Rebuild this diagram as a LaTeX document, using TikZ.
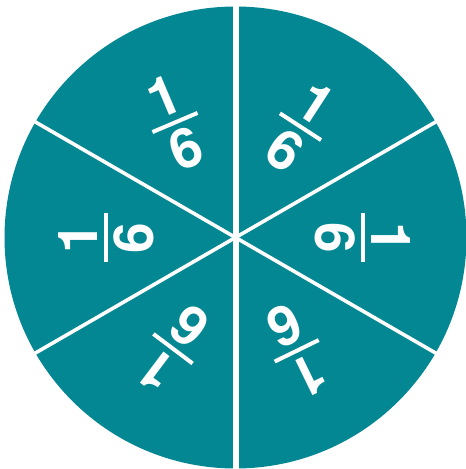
\documentclass[tikz,border=0pt]{standalone}
\usepackage{fontspec}
\setmainfont{TeX Gyre Heros}
\definecolor{pietal}{HTML}{038792}
\tikzset{
  digit/.style={text=white, inner sep=0pt, font=\bfseries\fontsize{55}{55}\selectfont},
  fracbar/.style={fill=white, inner sep=0pt, minimum width=49pt, minimum height=4pt},
  divider/.style={draw=white, line width=3.6pt},
}
\begin{document}
\begin{tikzpicture}[x=1pt,y=1pt]
\useasboundingbox (0,0) rectangle (466,469);
\coordinate (c) at (235.5,231.5);
\fill[pietal] (c) circle (231);
% dividers
\coordinate (t) at (236,469);
\coordinate (b) at (236,-2);
\coordinate (a30) at ([shift={(30:232)}]c);
\coordinate (a210) at ([shift={(210:232)}]c);
\coordinate (a150) at ([shift={(150:232)}]c);
\coordinate (a330) at ([shift={(330:232)}]c);
\draw[divider] (a30) -- (a210);
\draw[divider] (a150) -- (a330);
\draw[divider, line width=5.3pt] (t) -- (b);
% fractions: name / x / y(img) / rotation
\foreach \nm/\px/\py/\rot in {tl/175/122.5/23, tr/300.5/126.7/-33, l/106/238/90, r/363.3/238/-90, bl/173/348.7/143, br/296.7/350.8/206}{
  \begin{scope}[shift={(\px,469-\py)}, rotate=\rot, transform shape]
    \node[fracbar] (bar\nm) at (0,0) {};
    \node[digit, anchor=south] (num\nm) at (0,8) {1};
    \node[digit, anchor=north] (den\nm) at (0,-7.5) {6};
  \end{scope}
}
\end{tikzpicture}
\end{document}
